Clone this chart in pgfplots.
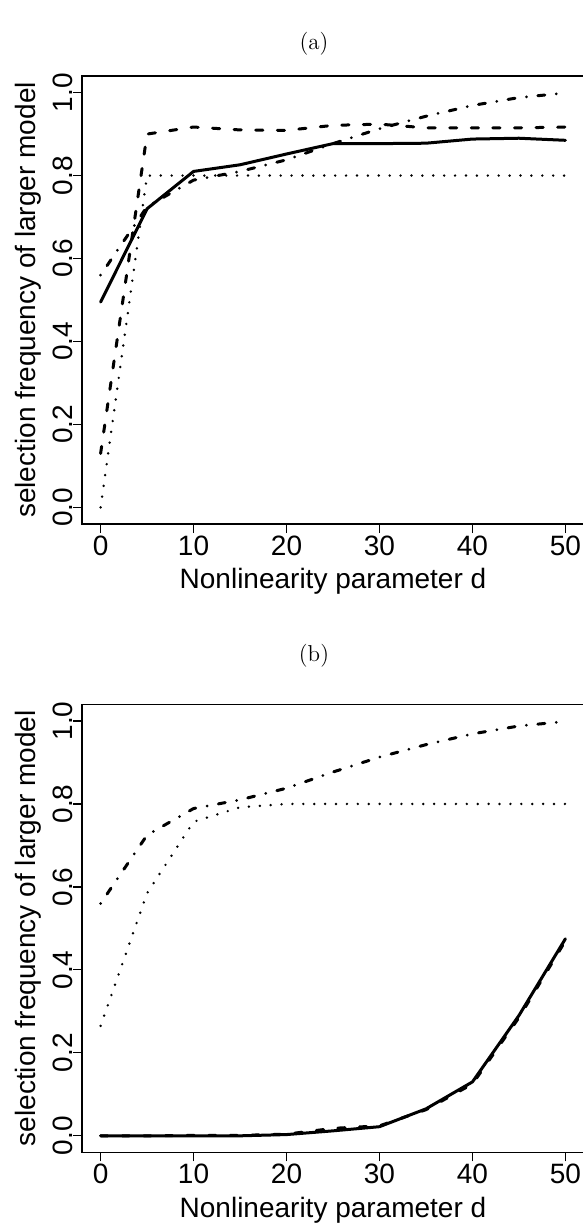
\documentclass[border=0pt]{standalone}
\usepackage{fontspec}
\usepackage{pgfplots}
\pgfplotsset{compat=1.18}
\newfontfamily\arial{Liberation Sans}

\pgfplotsset{
  selfreq/.style={
    scale only axis, width=251pt, height=224pt,
    xmin=-2, xmax=52, ymin=-0.04, ymax=1.04,
    xtick={0,10,20,30,40,50}, ytick={0,0.2,0.4,0.6,0.8,1},
    tick align=outside, major tick length=4.5pt,
    xtick pos=left, ytick pos=left,
    axis line style={line width=0.6pt},
    every tick/.style={black, line width=0.6pt},
    /pgf/number format/assume math mode=true,
    tick label style={font=\arial\fontsize{14}{16}\selectfont},
    xticklabel style={anchor=base, yshift=-11pt},
    yticklabel style={/pgf/number format/fixed, /pgf/number format/fixed zerofill,
      /pgf/number format/precision=1, anchor=base, xshift=-0.5pt, rotate=90},
    every axis x label/.style={at={(axis description cs:0.5,0)}, anchor=center,
      yshift=-28.85pt, font=\arial\fontsize{14}{16}\selectfont},
    every axis y label/.style={at={(axis description cs:0,0.5)}, anchor=center,
      xshift=-27pt, rotate=90, font=\arial\fontsize{14}{16}\selectfont},
    xlabel={Nonlinearity parameter d},
    ylabel={selection frequency of larger model},
  },
  s-solid/.style={black, line width=1.5pt, line cap=round, line join=round},
  s-dashed/.style={black, line width=1.5pt, line cap=round, dash pattern=on 3.6pt off 7.2pt},
  s-dotted/.style={black, line width=1.35pt, line cap=round, dash pattern=on 0pt off 5.45pt},
  s-dotdash/.style={black, line width=1.5pt, line cap=round, dash pattern=on 0pt off 5.75pt on 3.5pt off 5.75pt},
}

\begin{document}
\begin{tikzpicture}
\path[use as bounding box] (0,0) rectangle (291.5pt,-613.5pt);

\node[font=\fontsize{11.5}{13}\selectfont] at (157pt,-21.9pt) {(a)};
\node[font=\fontsize{11.5}{13}\selectfont] at (157pt,-327.9pt) {(b)};

% (a)
\begin{axis}[selfreq, at={(41pt,-262pt)}, anchor=south west]
\addplot[s-solid] coordinates {(0,0.495)(5,0.72)(10,0.81)(15,0.826)(20,0.852)(25,0.877)(30,0.877)(35,0.878)(40,0.888)(45,0.89)(50,0.885)};
\addplot[s-dashed] coordinates {(0,0.13)(5,0.90)(10,0.917)(15,0.91)(20,0.909)(25,0.921)(30,0.924)(35,0.915)(40,0.915)(45,0.915)(50,0.917)};
\addplot[s-dotted] coordinates {(0,0)(5,0.8)(10,0.8)(15,0.8)(20,0.8)(25,0.8)(30,0.8)(35,0.8)(40,0.8)(45,0.8)(50,0.8)};
\addplot[s-dotdash] coordinates {(0,0.56)(5,0.725)(10,0.789)(15,0.81)(20,0.838)(25,0.877)(30,0.913)(35,0.943)(40,0.969)(45,0.988)(50,0.999)};
\end{axis}

% (b)
\begin{axis}[selfreq, at={(41pt,-576.2pt)}, anchor=south west]
\addplot[s-solid] coordinates {(0,0)(5,0)(10,0)(15,0)(20,0.003)(25,0.012)(30,0.022)(35,0.065)(40,0.13)(45,0.29)(50,0.475)};
\addplot[s-dashed] coordinates {(0,0)(5,0)(10,0.001)(15,0.001)(20,0.004)(25,0.018)(30,0.024)(35,0.063)(40,0.125)(45,0.285)(50,0.47)};
\addplot[s-dotted] coordinates {(0,0.265)(5,0.585)(10,0.757)(15,0.792)(20,0.8)(25,0.8)(30,0.8)(35,0.8)(40,0.8)(45,0.8)(50,0.8)};
\addplot[s-dotdash] coordinates {(0,0.56)(5,0.725)(10,0.789)(15,0.81)(20,0.838)(25,0.877)(30,0.913)(35,0.943)(40,0.969)(45,0.988)(50,0.999)};
\end{axis}
\end{tikzpicture}
\end{document}
